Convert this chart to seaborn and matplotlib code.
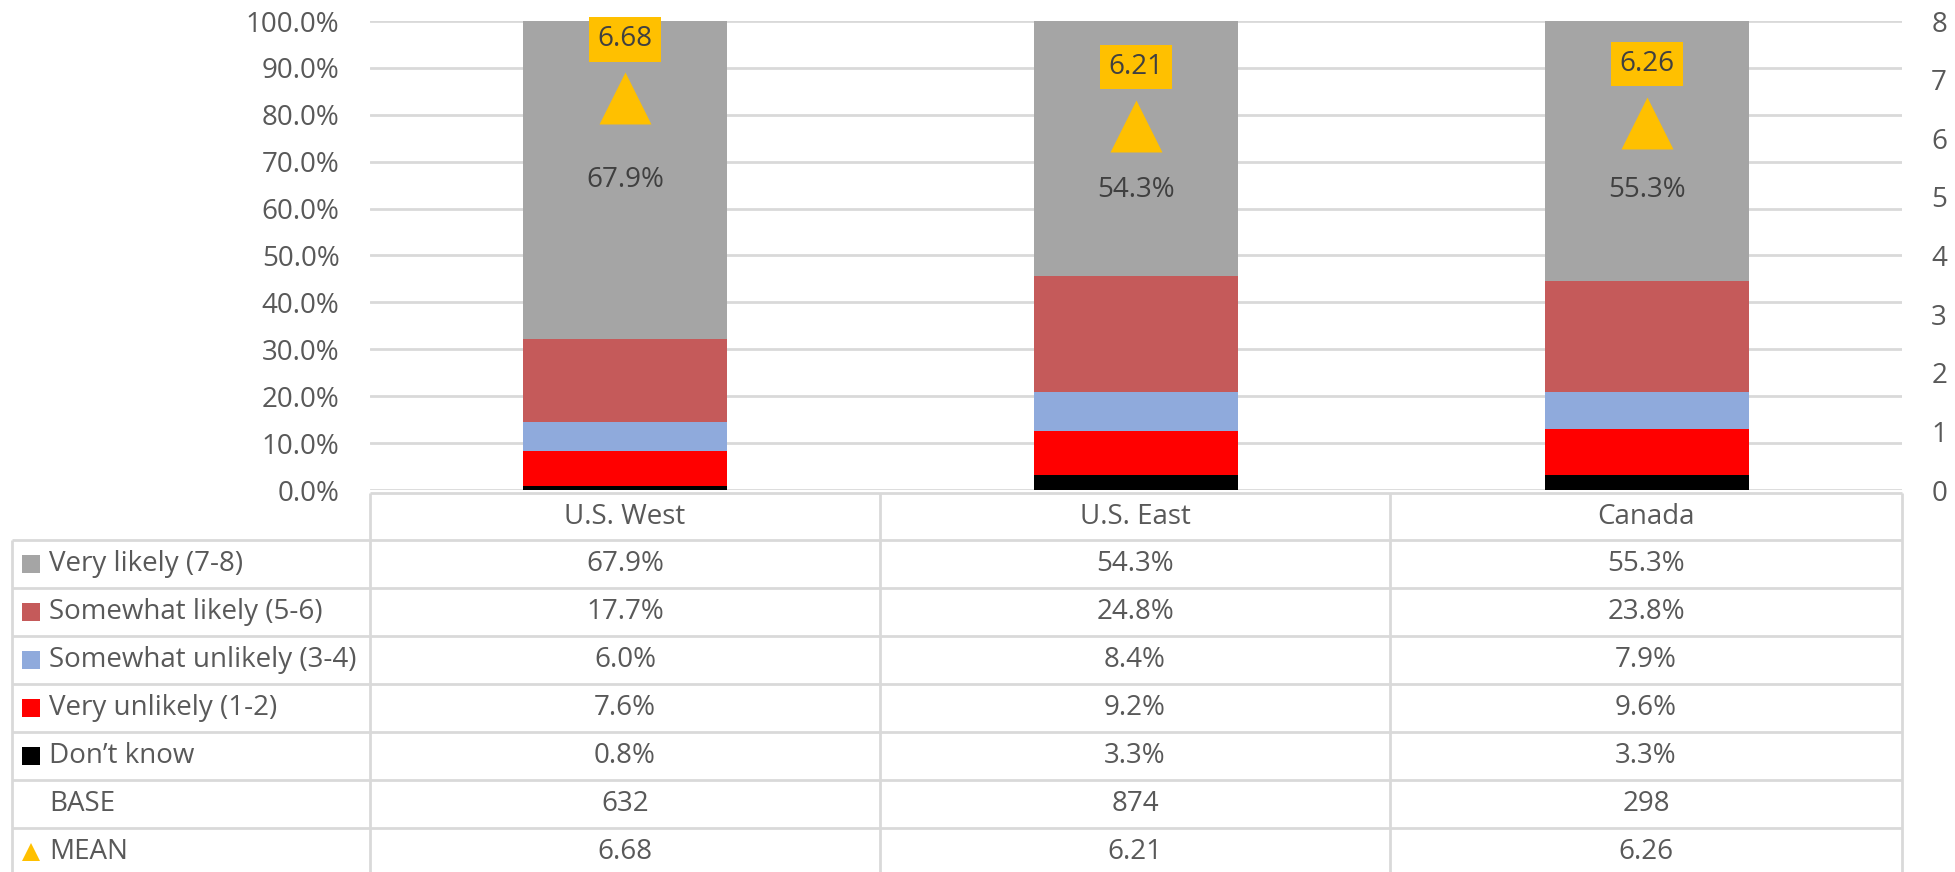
import numpy as np
import matplotlib
matplotlib.use("Agg")
import matplotlib.pyplot as plt
import seaborn as sns

# ---- data -------------------------------------------------------------
regions = ["U.S. West", "U.S. East", "Canada"]
series_names = ["Very likely (7-8)", "Somewhat likely (5-6)",
                "Somewhat unlikely (3-4)", "Very unlikely (1-2)", "Don\u2019t know"]
very_likely = [67.9, 54.3, 55.3]
somewhat_likely = [17.7, 24.8, 23.8]
somewhat_unlikely = [6.0, 8.4, 7.9]
very_unlikely = [7.6, 9.2, 9.6]
dont_know = [0.8, 3.3, 3.3]
base = [632, 874, 298]
mean = [6.68, 6.21, 6.26]

series_values = [very_likely, somewhat_likely, somewhat_unlikely, very_unlikely, dont_know]
series_colors = ["#A5A5A5", "#C55A5A", "#8FAADC", "#FF0000", "#000000"]
mean_color = "#FFC000"
text_color = "#595959"
grid_color = "#D9D9D9"

# vertical nudge (points) for the top-segment labels so they clear the mean marker
label_nudge_pt = [0, -30, -28]

# ---- figure -----------------------------------------------------------
W, H, DPI = 1956, 872, 100
sns.set_theme(style="white")
plt.rcParams["font.family"] = ["Open Sans", "DejaVu Sans"]
FS = 20

fig = plt.figure(figsize=(W / DPI, H / DPI), dpi=DPI)

# plot area in pixel terms
px_left, px_right, px_top, px_bottom = 370, 1902, 21, 490
ax = fig.add_axes([px_left / W, 1 - px_bottom / H,
                   (px_right - px_left) / W, (px_bottom - px_top) / H])

# stacked bars: draw cumulative totals from the tallest down
stack_order = series_values[::-1]           # bottom -> top
stack_colors = series_colors[::-1]
cum = np.cumsum(np.array(stack_order), axis=0)  # running tops
for level in range(len(stack_order) - 1, -1, -1):
    sns.barplot(x=regions, y=cum[level], order=regions, color=stack_colors[level],
                width=0.4, saturation=1, ax=ax, linewidth=0, zorder=2)

# value label in the top segment
for i, v in enumerate(very_likely):
    centre = cum[-2][i] + v / 2
    ax.annotate(f"{v:.1f}%", (i, centre), xytext=(0, label_nudge_pt[i]),
                textcoords="offset points", ha="center", va="center",
                fontsize=FS, color="#404040", zorder=5)

ax.set_xlim(-0.5, len(regions) - 0.5)
ax.set_ylim(0, 100)
ax.set_yticks(np.arange(0, 101, 10))
ax.set_yticklabels([f"{t:.1f}%" for t in np.arange(0, 101, 10)])
ax.tick_params(axis="y", length=0, pad=22, labelsize=FS, labelcolor=text_color)
ax.set_xticks([])
ax.set_xlabel("")
ax.set_ylabel("")
ax.yaxis.grid(True, color=grid_color, linewidth=2)
ax.set_axisbelow(True)
for s in ax.spines.values():
    s.set_visible(False)

# secondary axis for the mean score
ax2 = ax.twinx()
ax2.set_ylim(0, 8)
sns.scatterplot(x=np.arange(len(regions)), y=mean, marker="^", s=1400,
                color=mean_color, linewidth=0, ax=ax2, zorder=6, legend=False)
for i, m in enumerate(mean):
    ax2.annotate(f"{m:.2f}", (i, m), xytext=(0, 42.5), textcoords="offset points",
                 ha="center", va="center", fontsize=FS, color="#404040",
                 bbox=dict(boxstyle="square,pad=0.3", fc=mean_color, ec="none"))
ax2.set_yticks(range(0, 9))
ax2.tick_params(axis="y", length=0, pad=21, labelsize=FS, labelcolor=text_color)
ax2.set_xlim(-0.5, len(regions) - 0.5)
for s in ax2.spines.values():
    s.set_visible(False)
ax2.grid(False)

# ---- data table under the chart ---------------------------------------
tab = fig.add_axes([0, 0, 1, 1], zorder=-1)
tab.set_xlim(0, W)
tab.set_ylim(H, 0)
tab.axis("off")

col_edges = [12, 370, 880, 1390, 1902]
header_top, header_bottom, row_h = 493, 540, 48
row_labels = series_names + ["BASE", "MEAN"]
row_values = [[f"{v:.1f}%" for v in vals] for vals in series_values]
row_values += [[str(b) for b in base], [f"{m:.2f}" for m in mean]]
n_rows = len(row_labels)
row_edges = [header_bottom + k * row_h for k in range(n_rows + 1)]
lw = 2

# header row (data columns only)
tab.hlines(header_top, col_edges[1], col_edges[-1], color=grid_color, lw=lw)
for x in col_edges[1:]:
    tab.vlines(x, header_top, row_edges[-1], color=grid_color, lw=lw)
tab.vlines(col_edges[0], header_bottom, row_edges[-1], color=grid_color, lw=lw)
for y in row_edges:
    tab.hlines(y, col_edges[0], col_edges[-1], color=grid_color, lw=lw)

col_centres = [(col_edges[j + 1] + col_edges[j + 2]) / 2 for j in range(len(regions))]
for j, name in enumerate(regions):
    tab.text(col_centres[j], (header_top + header_bottom) / 2, name,
             ha="center", va="center", fontsize=FS, color=text_color)

key_colors = series_colors + [None, mean_color]
for r, (label, vals) in enumerate(zip(row_labels, row_values)):
    yc = (row_edges[r] + row_edges[r + 1]) / 2
    kc = key_colors[r]
    if kc is not None:
        if label == "MEAN":
            tab.fill([22, 40, 31], [yc + 9, yc + 9, yc - 9], color=kc, lw=0)
        else:
            tab.add_patch(plt.Rectangle((22, yc - 9), 18, 18, color=kc, lw=0))
    tab.text(49, yc, label, ha="left", va="center", fontsize=FS, color=text_color)
    for j, v in enumerate(vals):
        tab.text(col_centres[j], yc, v, ha="center", va="center",
                 fontsize=FS, color=text_color)

fig.savefig("out.png", dpi=DPI, facecolor="white")
